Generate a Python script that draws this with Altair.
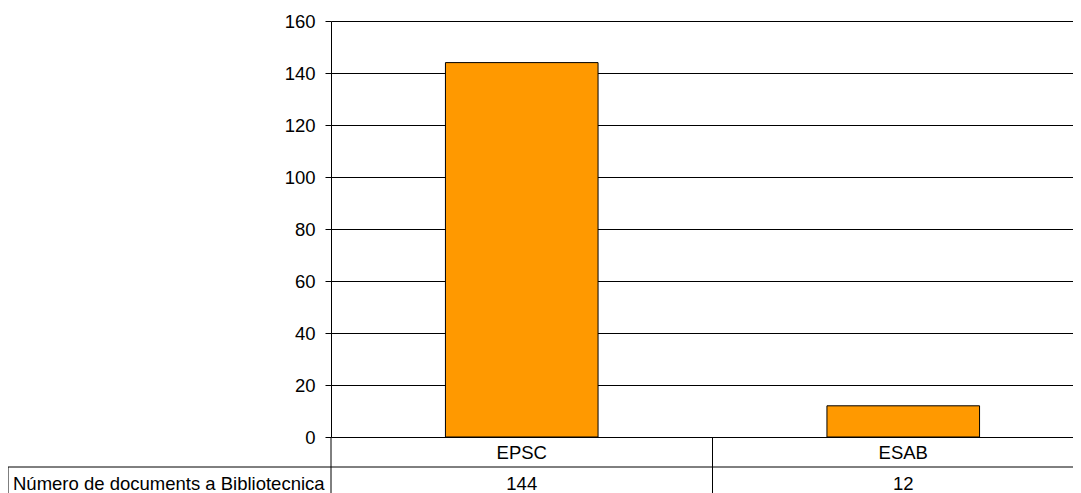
import altair as alt
import pandas as pd

categories = ["EPSC", "ESAB"]
values = [144, 12]
series_label = "Número de documents a Bibliotecnica"
y_ticks = [0, 20, 40, 60, 80, 100, 120, 140, 160]

df = pd.DataFrame({"cat": categories, "val": values})
df["txt"] = df["val"].astype(str)

W, H = 742, 416
FONT = "Arial"
FS = 18.5

xscale = alt.Scale(domain=categories, range=[0, 763], paddingInner=0, paddingOuter=0)
yscale = alt.Scale(domain=[0, 160], nice=False)

base = alt.Chart(df)

bars = base.mark_bar(
    width=alt.RelativeBandSize(0.4), color="#FF9900", stroke="black", strokeWidth=1
).encode(
    x=alt.X("cat:N", scale=xscale, axis=None, sort=categories),
    y=alt.Y(
        "val:Q",
        scale=yscale,
        axis=alt.Axis(
            values=y_ticks, grid=True, gridColor="black", gridOpacity=1, gridWidth=1,
            domainColor="black", domainWidth=1, tickColor="black", tickSize=6,
            labelPadding=10, labelFont=FONT, labelFontSize=FS, labelColor="black",
            title=None,
        ),
    ),
)

cat_text = base.mark_text(font=FONT, fontSize=FS, color="black", baseline="middle").encode(
    x=alt.X("cat:N", scale=xscale, axis=None, sort=categories),
    y=alt.value(H + 16),
    text="cat:N",
)

val_text = base.mark_text(font=FONT, fontSize=FS, color="black", baseline="middle").encode(
    x=alt.X("cat:N", scale=xscale, axis=None, sort=categories),
    y=alt.value(H + 47),
    text="txt:N",
)

label_df = pd.DataFrame({"label": [series_label]})
row_label = alt.Chart(label_df).mark_text(
    font=FONT, fontSize=FS, color="black", align="left", baseline="middle"
).encode(x=alt.value(-318), y=alt.value(H + 47), text="label:N")

hline = alt.Chart(label_df).mark_rule(color="black", strokeWidth=1).encode(
    x=alt.value(-323), x2=alt.value(W), y=alt.value(H + 30)
)
left_border = alt.Chart(label_df).mark_rule(color="black", strokeWidth=1).encode(
    x=alt.value(-323), y=alt.value(H + 30), y2=alt.value(H + 72)
)
axis_ext = alt.Chart(label_df).mark_rule(color="black", strokeWidth=1).encode(
    x=alt.value(0), y=alt.value(H), y2=alt.value(H + 72)
)
divider = base.transform_filter(alt.datum.cat != categories[0]).mark_rule(
    color="black", strokeWidth=1
).encode(
    x=alt.X("cat:N", scale=xscale, axis=None, bandPosition=0, sort=categories),
    y=alt.value(H),
    y2=alt.value(H + 72),
)

chart = alt.layer(
    bars, cat_text, val_text, row_label, hline, left_border, axis_ext, divider
).properties(
    width=W,
    height=H,
    autosize=alt.AutoSizeParams(type="none"),
    padding={"left": 323, "top": 13, "right": 0, "bottom": 62},
    background="white",
).configure_view(stroke=None)

chart.save("out.html", embed_options={"renderer": "svg", "actions": False})
